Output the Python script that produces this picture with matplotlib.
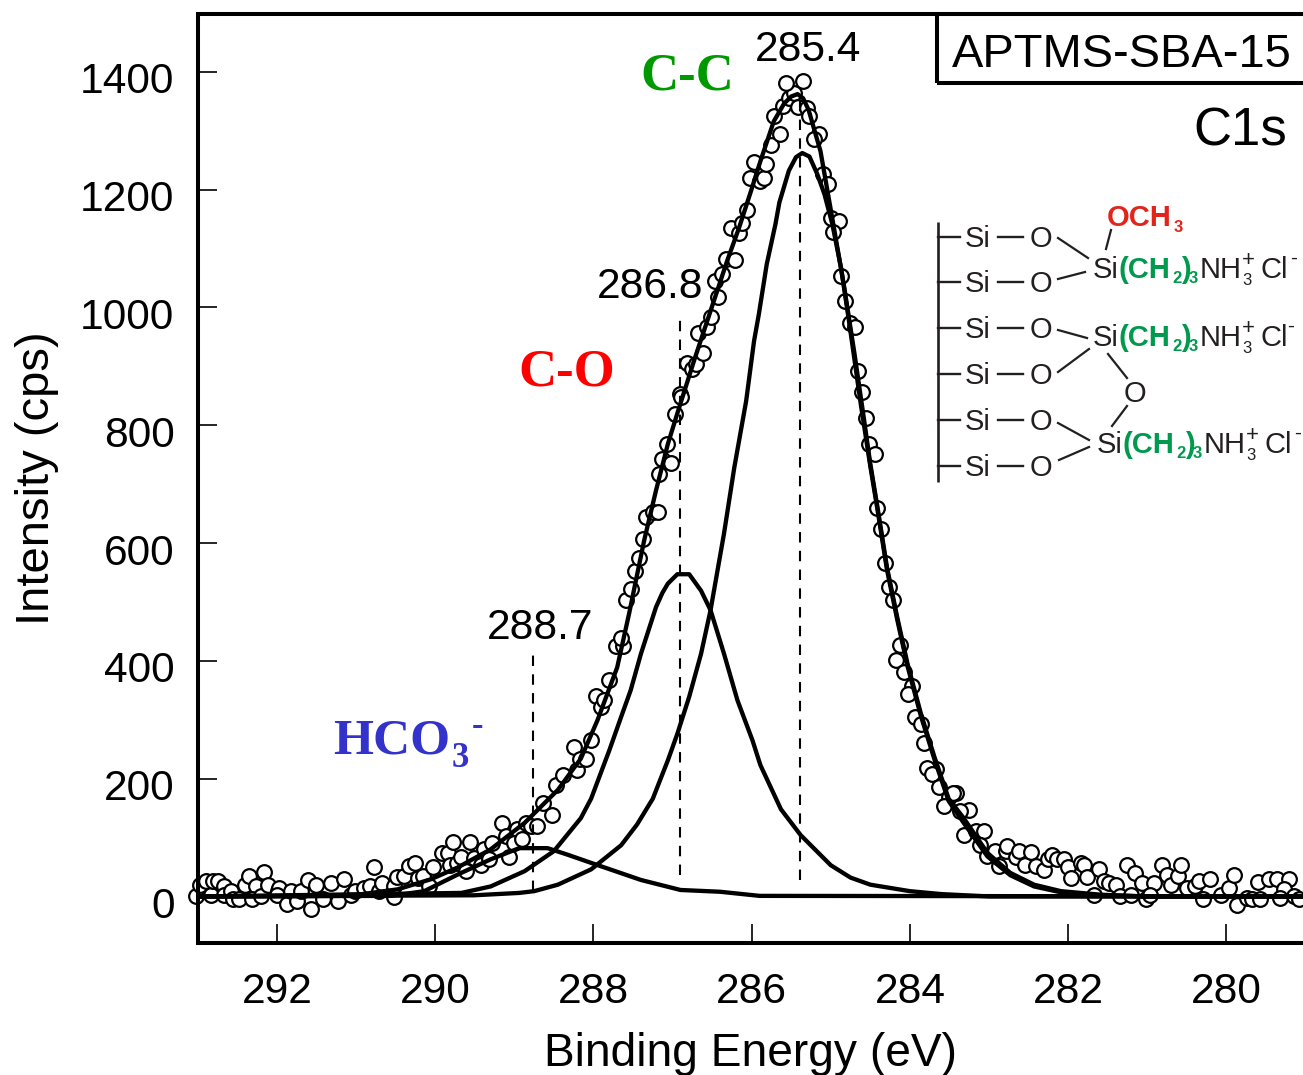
import matplotlib
matplotlib.use("Agg")
import matplotlib.pyplot as plt
from matplotlib.transforms import ScaledTranslation

plt.rcParams['font.family'] = ['Liberation Sans', 'DejaVu Sans']

# measured points, (binding energy, intensity)
data_x = [293.02, 292.98, 292.90, 292.83, 292.81, 292.75, 292.67, 292.67, 292.58, 292.56, 292.48, 292.41,
          292.36, 292.27, 292.32, 292.20, 292.17, 292.12, 291.99, 291.97, 292.00, 291.87, 291.82, 291.75,
          291.70, 291.61, 291.57, 291.51, 291.42, 291.32, 291.23, 291.16, 291.06, 291.02, 290.90, 290.83,
          290.78, 290.71, 290.67, 290.52, 290.52, 290.48, 290.39, 290.33, 290.26, 290.22, 290.16, 290.08,
          290.03, 289.92, 289.84, 289.77, 289.82, 289.72, 289.67, 289.61, 289.56, 289.51, 289.42, 289.38,
          289.32, 289.28, 289.16, 289.11, 289.07, 289.01, 288.97, 288.90, 288.85, 288.79, 288.71, 288.64,
          288.53, 288.47, 288.39, 288.25, 288.21, 288.17, 288.10, 288.03, 287.97, 287.91, 287.87, 287.80,
          287.72, 287.63, 287.65, 287.59, 287.52, 287.48, 287.42, 287.37, 287.33, 287.25, 287.19, 287.17,
          287.13, 287.02, 287.07, 286.97, 286.90, 286.89, 286.82, 286.75, 286.71, 286.61, 286.68, 286.57,
          286.52, 286.42, 286.46, 286.38, 286.32, 286.21, 286.26, 286.16, 286.12, 286.06, 286.02, 285.90,
          285.84, 285.97, 285.82, 285.76, 285.64, 285.72, 285.61, 285.53, 285.46, 285.57, 285.35, 285.42,
          285.30, 285.27, 285.15, 285.21, 285.10, 285.03, 285.00, 284.90, 284.97, 284.87, 284.82, 284.76,
          284.70, 284.66, 284.61, 284.56, 284.52, 284.44, 284.41, 284.37, 284.31, 284.26, 284.21, 284.12,
          284.17, 284.08, 283.97, 284.02, 283.93, 283.86, 283.82, 283.67, 283.78, 283.72, 283.63, 283.50,
          283.42, 283.46, 283.57, 283.25, 283.37, 283.32, 283.17, 283.06, 283.11, 283.03, 282.92, 282.87,
          282.79, 282.77, 282.66, 282.62, 282.54, 282.47, 282.41, 282.31, 282.26, 282.20, 282.14, 282.05,
          282.00, 281.96, 281.84, 281.80, 281.76, 281.67, 281.61, 281.55, 281.48, 281.40, 281.34, 281.21,
          281.25, 281.15, 281.06, 281.02, 280.92, 280.96, 280.81, 280.75, 280.70, 280.61, 280.57, 280.50,
          280.39, 280.35, 280.30, 280.20, 280.07, 279.97, 279.90, 279.86, 279.74, 279.67, 279.57, 279.60,
          279.46, 279.36, 279.21, 279.27, 279.32, 279.15, 279.08]
data_y = [0, 19, 26, 3, 26, 26, 17, 3, 9, -5, -5, 20,
          34, 17, -4, 0, 42, 20, 9, 15, 3, -12, 9, -8,
          9, 28, -22, 19, -4, 23, -8, 30, 3, 9, 15, 17,
          50, 9, 23, -1, 17, 33, 34, 51, 57, 32, 34, 17,
          50, 73, 74, 92, 54, 57, 67, 43, 93, 66, 54, 80,
          63, 91, 125, 102, 67, 91, 114, 97, 125, 119, 119, 158,
          139, 189, 206, 253, 214, 234, 234, 265, 341, 322, 333, 368,
          425, 425, 438, 504, 522, 552, 575, 607, 644, 652, 652, 717,
          743, 736, 768, 819, 853, 847, 905, 895, 904, 922, 956, 966,
          984, 1018, 1044, 1056, 1082, 1080, 1134, 1126, 1143, 1165, 1220, 1215,
          1219, 1247, 1244, 1275, 1295, 1325, 1341, 1355, 1364, 1381, 1385, 1340,
          1338, 1325, 1295, 1285, 1226, 1210, 1152, 1147, 1128, 1053, 1011, 973,
          966, 892, 856, 813, 768, 751, 659, 624, 566, 526, 504, 427,
          401, 381, 358, 344, 305, 293, 260, 217, 218, 208, 186, 169,
          176, 175, 154, 146, 145, 105, 111, 111, 88, 68, 78, 51,
          77, 86, 67, 78, 54, 75, 51, 45, 63, 71, 63, 63,
          50, 32, 57, 54, 33, 3, 46, 26, 23, 20, 0, 3,
          53, 40, 23, -4, 23, 3, 54, 37, 19, 34, 53, 15,
          17, 26, -4, 30, 3, 15, 36, -15, -2, -5, -5, 25,
          29, 29, 30, 12, -2, 0, -4]

# total fit envelope
fit_x = [293.0, 291.5, 290.98, 290.48, 290.06, 289.72, 289.30, 288.87, 288.45, 288.16, 287.95, 287.70,
         287.55, 287.36, 287.21, 287.06, 286.94, 286.73, 286.52, 286.31, 286.16, 286.01, 285.89, 285.72,
         285.59, 285.50, 285.42, 285.35, 285.28, 285.13, 284.96, 284.83, 284.70, 284.58, 284.50, 284.41,
         284.29, 284.16, 284.03, 283.86, 283.69, 283.51, 283.32, 283.02, 282.73, 282.43, 282.09, 281.59,
         281.0, 279.0]
fit_y = [0, 1, 3, 12, 29, 49, 80, 125, 181, 234, 299, 389,
         480, 604, 689, 768, 820, 909, 994, 1079, 1135, 1197, 1248, 1316,
         1346, 1358, 1362, 1355, 1335, 1265, 1135, 1034, 921, 810, 734, 661,
         559, 474, 395, 310, 237, 166, 133, 74, 40, 20, 9, 3,
         0, 0]

# C-C component
cc_x = [293.0, 289.51, 288.94, 288.75, 288.45, 288.03, 287.65, 287.45, 287.25, 287.06, 286.94, 286.79, 286.64,
        286.52, 286.35, 286.22, 286.07, 285.97, 285.91, 285.81, 285.70, 285.65, 285.53, 285.44, 285.36,
        285.27, 285.17, 285.08, 284.98, 284.87, 284.77, 284.62, 284.50, 284.41, 284.29, 284.16, 284.03,
        283.86, 283.69, 283.51, 283.32, 283.02, 282.73, 282.43, 282.09, 281.59, 281.0, 279.0]
cc_y = [0, 2, 6, 9, 20, 46, 87, 122, 166, 231, 276, 339, 412,
        486, 616, 728, 841, 943, 988, 1073, 1141, 1178, 1232, 1255, 1262,
        1256, 1226, 1192, 1141, 1067, 977, 835, 730, 657, 555, 470,
        391, 306, 233, 162, 125, 68, 36, 17, 7, 2, 0, 0]

# C-O component
co_x = [293.0, 289.67, 289.30, 288.87, 288.50, 288.16, 288.03, 287.80, 287.65, 287.53, 287.40, 287.21, 287.13,
        287.06, 286.94, 286.79, 286.64, 286.52, 286.35, 286.18, 285.99, 285.89, 285.63, 285.38, 285.0, 284.75,
        284.5, 284.0, 283.6, 283.0, 279.0]
co_y = [0, 6, 17, 43, 77, 133, 166, 248, 305, 350, 412, 491, 515,
        531, 547, 547, 519, 486, 412, 333, 265, 223, 148, 104, 53, 32,
        20, 9, 4, 0, 0]

# HCO3- component
hco_x = [293.0, 290.56, 290.14, 289.72, 289.30, 288.94, 288.58, 288.33, 288.03, 287.4, 286.9, 286.4, 285.9, 279.0]
hco_y = [0, 1, 9, 37, 63, 82, 82, 71, 57, 28, 11, 8, 1, 0]

# peak markers: position, top of the dashed line, bottom of it
peak_x = [285.39, 286.91, 288.77]
peak_top = [1355, 990, 414]
peak_bottom = [28, 36, 10]

x_ticks = [292, 290, 288, 286, 284, 282, 280]
y_ticks = [0, 200, 400, 600, 800, 1000, 1200, 1400]

W, H = 1303, 1075
fig = plt.figure(figsize=(W / 100, H / 100), dpi=100)
ax = fig.add_axes([198 / W, 1 - 943 / H, (W - 198) / W, (943 - 14) / H])

ax.scatter(data_x, data_y, s=112, facecolor='white', edgecolor='black', linewidth=1.6, zorder=2, clip_on=False)
for xs, ys in [(hco_x, hco_y), (co_x, co_y), (cc_x, cc_y), (fit_x, fit_y)]:
    ax.plot(xs, ys, color='black', lw=3.1, zorder=3)
ax.vlines(peak_x, peak_bottom, peak_top, color='black', lw=1.5, linestyles=(0, (5, 4)), zorder=4)

ax.set_xlim(293.0, 279.03)
ax.set_ylim(-79, 1498)
ax.spines['right'].set_visible(False)
for side in ['left', 'top', 'bottom']:
    ax.spines[side].set_linewidth(2.9)
ax.set_xticks(x_ticks)
ax.set_yticks(y_ticks)
ax.tick_params(direction='in', length=14, width=1.2, labelsize=30.6)
ax.tick_params(axis='x', pad=21)
ax.tick_params(axis='y', pad=17)
shift = ScaledTranslation(0, -6 / 100, fig.dpi_scale_trans)
for label in ax.get_yticklabels():
    label.set_transform(label.get_transform() + shift)
ax.set_xlabel('Binding Energy (eV)', fontsize=33.2, labelpad=14)
ax.set_ylabel('Intensity (cps)', fontsize=34, labelpad=15)

# overlay in pixel coordinates for the annotations and the scheme
ov = fig.add_axes([0, 0, 1, 1], zorder=5)
ov.set_xlim(0, W)
ov.set_ylim(H, 0)
ov.axis('off')

ov.plot([937, 937, W], [83, 14, 14], color='black', lw=2.9, solid_capstyle='butt')
ov.plot([937, W], [83, 83], color='black', lw=2.9, solid_capstyle='butt')
ov.text(952, 67, 'APTMS-SBA-15', fontsize=33.8, ha='left', va='baseline')
ov.text(1193, 146, 'C1s', fontsize=38, ha='left', va='baseline')
ov.text(755, 61, '285.4', fontsize=30.6, ha='left', va='baseline')
ov.text(597, 298, '286.8', fontsize=30.6, ha='left', va='baseline')
ov.text(487, 639, '288.7', fontsize=30.6, ha='left', va='baseline')

serif = dict(family='Liberation Serif', fontweight='bold', ha='left', va='baseline')
ov.text(640, 90, 'C-C', color='#009900', fontsize=38, **serif)
ov.text(518, 386, 'C-O', color='#ff0000', fontsize=38, **serif)
ov.text(333, 754, 'HCO', color='#3333cc', fontsize=37, **serif)
ov.text(452, 767, '3', color='#3333cc', fontsize=25, **serif)
ov.text(472, 735, '-', color='#3333cc', fontsize=25, **serif)

# surface scheme
dark = '#231f20'
green = '#009a4e'
red = '#e1251b'
ov.plot([937.5, 937.5], [222, 482], color=dark, lw=1.9, solid_capstyle='butt')
for y in [237, 282, 328, 374, 420, 466]:
    ov.plot([938, 960], [y, y], color=dark, lw=1.7)
    ov.plot([998, 1023], [y, y], color=dark, lw=1.7)
    ov.text(965, y + 10, 'Si', color=dark, fontsize=21, ha='left', va='baseline')
    ov.text(1041, y + 10, 'O', color=dark, fontsize=21, ha='center', va='baseline')
bonds = [(1058, 238, 1088, 258), (1058, 279, 1085, 272), (1058, 330, 1087, 338), (1058, 372, 1089, 349),
         (1108, 354, 1127, 378), (1127, 406, 1112, 426), (1058, 423, 1089, 440), (1059, 460, 1089, 447),
         (1111, 230, 1106, 249)]
for x0, y0, x1, y1 in bonds:
    ov.plot([x0, x1], [y0, y1], color=dark, lw=1.6)
ov.text(1135, 402, 'O', color=dark, fontsize=21, ha='center', va='baseline')
ov.text(1107, 226, 'OCH', color=red, fontsize=21, fontweight='bold', ha='left', va='baseline')
ov.text(1174, 232, '3', color=red, fontsize=12, fontweight='bold', ha='left', va='baseline')


def chain(x, y, minus_dx=197):
    ov.text(x, y, 'Si', color=dark, fontsize=21, ha='left', va='baseline')
    ov.text(x + 25, y, '(CH', color=green, fontsize=21, fontweight='bold', ha='left', va='baseline')
    ov.text(x + 79, y + 5, '2', color=green, fontsize=12, fontweight='bold', ha='left', va='baseline')
    ov.text(x + 88, y, ')', color=green, fontsize=21, fontweight='bold', ha='left', va='baseline')
    ov.text(x + 96, y + 5, '3', color=green, fontsize=12, fontweight='bold', ha='left', va='baseline')
    ov.text(x + 107, y, 'NH', color=dark, fontsize=21, ha='left', va='baseline')
    ov.text(x + 149, y + 7, '3', color=dark, fontsize=12, ha='left', va='baseline')
    ov.text(x + 149, y - 12, '+', color=dark, fontsize=16, ha='left', va='baseline')
    ov.text(x + 167, y, 'Cl', color=dark, fontsize=21, ha='left', va='baseline')
    ov.text(x + minus_dx, y - 14, '-', color=dark, fontsize=15, ha='left', va='baseline')


chain(1093, 278)
chain(1093, 346, minus_dx=194)
chain(1097, 453, minus_dx=197)

fig.savefig('out.png', dpi=100)
